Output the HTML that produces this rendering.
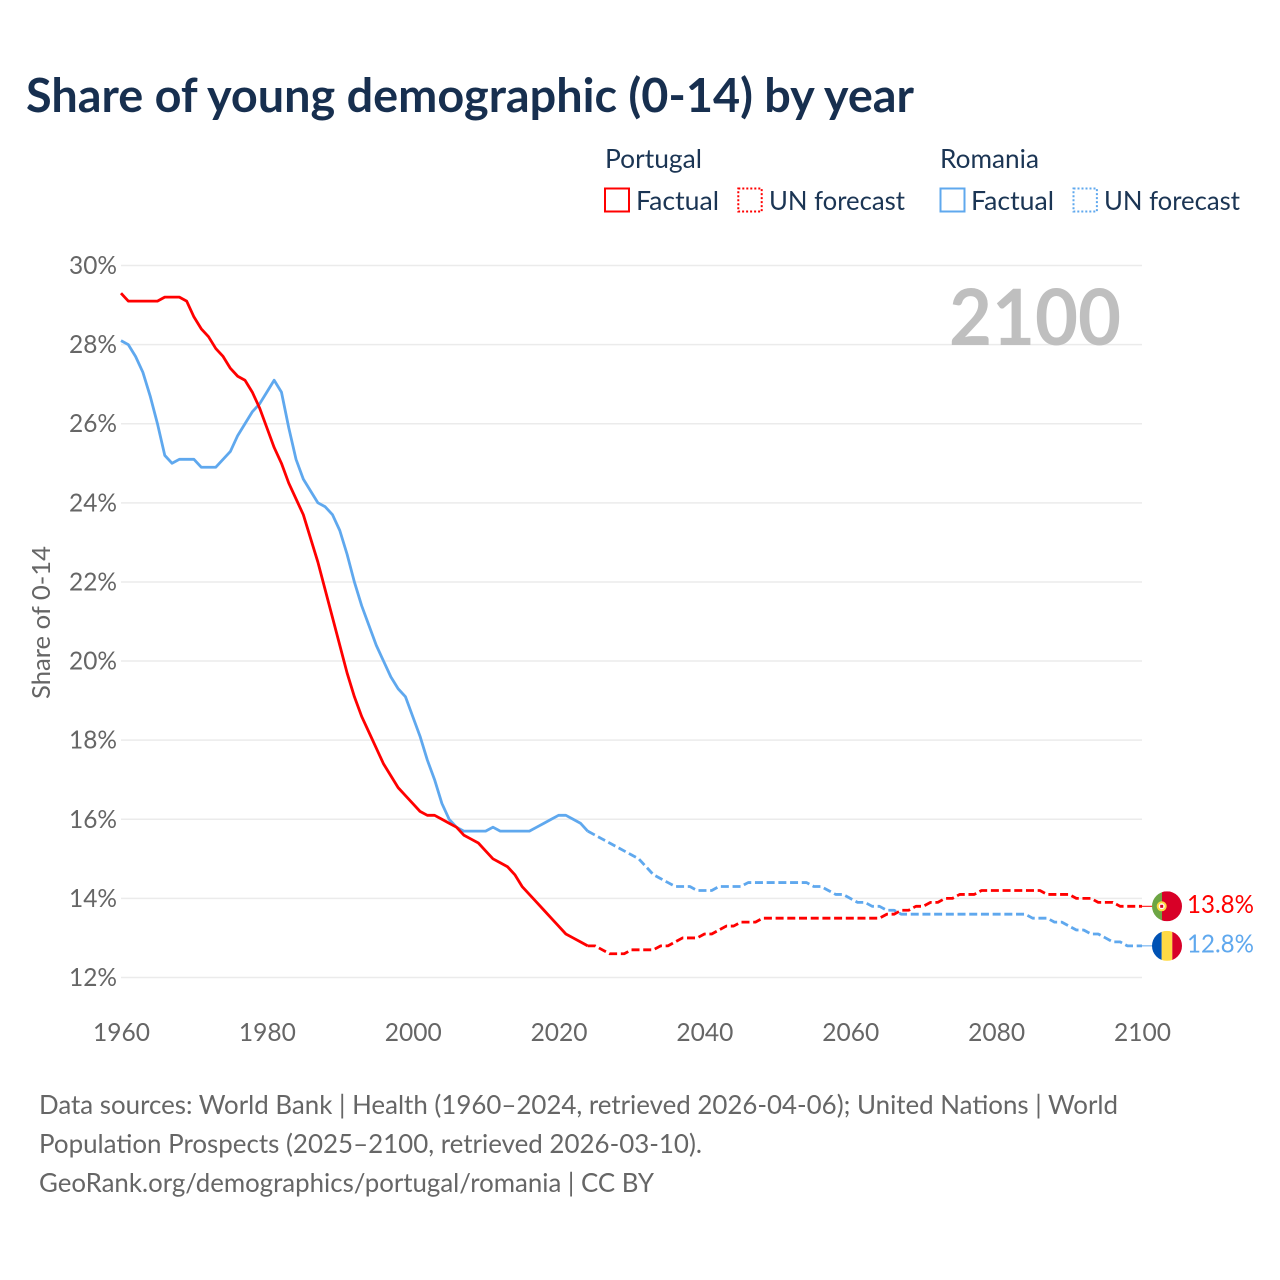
<!DOCTYPE html>
<html lang="en">
<head>
<meta charset="utf-8">
<title>Share of young demographic (0-14) by year</title>
<style>
  html, body { margin: 0; padding: 0; background: #fff; }
  svg { display: block; }
  text { font-family: "Lato", "Carlito", "Liberation Sans", sans-serif; }
</style>
</head>
<body>
<svg id="chart" xmlns="http://www.w3.org/2000/svg" width="1280" height="1280" viewBox="0 0 1280 1280">
  <rect x="0" y="0" width="1280" height="1280" fill="#ffffff"/>
  <text x="26" y="112" font-size="47" font-weight="700" fill="#172f4f" textLength="888" lengthAdjust="spacingAndGlyphs">Share of young demographic (0-14) by year</text>

  <g font-size="26" fill="#1b3554">
    <text x="605" y="168" textLength="97" lengthAdjust="spacingAndGlyphs">Portugal</text>
    <rect x="605" y="188.5" width="24" height="23" fill="none" stroke="#ff0000" stroke-width="2"/>
    <text x="636" y="210" textLength="83" lengthAdjust="spacingAndGlyphs">Factual</text>
    <rect x="738.3" y="188.5" width="23.4" height="23" fill="none" stroke="#ff0000" stroke-width="2" stroke-dasharray="2 2"/>
    <text x="769" y="210" textLength="136" lengthAdjust="spacingAndGlyphs">UN forecast</text>
    <text x="940" y="168" textLength="99" lengthAdjust="spacingAndGlyphs">Romania</text>
    <rect x="940.5" y="188.5" width="24" height="23" fill="none" stroke="#5fa8ee" stroke-width="2"/>
    <text x="971" y="210" textLength="83" lengthAdjust="spacingAndGlyphs">Factual</text>
    <rect x="1073.5" y="188.5" width="23.4" height="23" fill="none" stroke="#5fa8ee" stroke-width="2" stroke-dasharray="2 2"/>
    <text x="1104" y="210" textLength="136" lengthAdjust="spacingAndGlyphs">UN forecast</text>
  </g>

  <g id="grid"></g>
  <g id="y-ticks" font-size="25" fill="#666666" text-anchor="end"></g>
  <g id="x-ticks" font-size="25" fill="#666666" text-anchor="middle"></g>

  <text transform="translate(50,622.5) rotate(-90)" text-anchor="middle" font-size="25" fill="#666666" textLength="153" lengthAdjust="spacingAndGlyphs">Share of 0-14</text>

  <text x="949" y="345" font-size="78" font-weight="700" fill="#bfbfbf" textLength="172" lengthAdjust="spacingAndGlyphs">2100</text>

  <g id="series"></g>

  <g id="end-markers"></g>

  <defs>
    <clipPath id="clip-pt"><circle cx="1167" cy="0" r="15"/></clipPath>
    <clipPath id="clip-ro"><circle cx="1167" cy="0" r="15"/></clipPath>
  </defs>

  <g font-size="26" fill="#666666">
    <text x="39" y="1114" textLength="1079" lengthAdjust="spacingAndGlyphs">Data sources: World Bank | Health (1960–2024, retrieved 2026-04-06); United Nations | World</text>
    <text x="39" y="1153" textLength="663" lengthAdjust="spacingAndGlyphs">Population Prospects (2025–2100, retrieved 2026-03-10).</text>
    <text x="39" y="1192" textLength="615" lengthAdjust="spacingAndGlyphs">GeoRank.org/demographics/portugal/romania | CC BY</text>
  </g>
</svg>

<script>
// Chart data
const FIRST_YEAR = 1960;
const FORECAST_START_YEAR = 2024;
const xTickYears = [1960, 1980, 2000, 2020, 2040, 2060, 2080, 2100];
const yTickValues = [12, 14, 16, 18, 20, 22, 24, 26, 28, 30];

// Portugal factual, 1960-2024
const portugalFactual = [
  29.3,29.1,29.1,29.1,29.1,29.1,29.2,29.2,29.2,29.1,
  28.7,28.4,28.2,27.9,27.7,27.4,27.2,27.1,26.8,26.4,
  25.9,25.4,25.0,24.5,24.1,23.7,23.1,22.5,21.8,21.1,
  20.4,19.7,19.1,18.6,18.2,17.8,17.4,17.1,16.8,16.6,
  16.4,16.2,16.1,16.1,16.0,15.9,15.8,15.6,15.5,15.4,
  15.2,15.0,14.9,14.8,14.6,14.3,14.1,13.9,13.7,13.5,
  13.3,13.1,13.0,12.9,12.8
];
// Portugal UN forecast, 2024-2100
const portugalForecast = [
  12.8,12.8,12.7,12.6,12.6,12.6,
  12.7,12.7,12.7,12.7,12.8,12.8,12.9,13.0,13.0,13.0,
  13.1,13.1,13.2,13.3,13.3,13.4,13.4,13.4,13.5,13.5,
  13.5,13.5,13.5,13.5,13.5,13.5,13.5,13.5,13.5,13.5,
  13.5,13.5,13.5,13.5,13.5,13.6,13.6,13.7,13.7,13.8,
  13.8,13.9,13.9,14.0,14.0,14.1,14.1,14.1,14.2,14.2,
  14.2,14.2,14.2,14.2,14.2,14.2,14.2,14.1,14.1,14.1,
  14.1,14.0,14.0,14.0,13.9,13.9,13.9,13.8,13.8,13.8,13.8
];
// Romania factual, 1960-2024
const romaniaFactual = [
  28.1,28.0,27.7,27.3,26.7,26.0,25.2,25.0,25.1,25.1,
  25.1,24.9,24.9,24.9,25.1,25.3,25.7,26.0,26.3,26.5,
  26.8,27.1,26.8,25.9,25.1,24.6,24.3,24.0,23.9,23.7,
  23.3,22.7,22.0,21.4,20.9,20.4,20.0,19.6,19.3,19.1,
  18.6,18.1,17.5,17.0,16.4,16.0,15.8,15.7,15.7,15.7,
  15.7,15.8,15.7,15.7,15.7,15.7,15.7,15.8,15.9,16.0,
  16.1,16.1,16.0,15.9,15.7
];
// Romania UN forecast, 2024-2100
const romaniaForecast = [
  15.7,15.6,15.5,15.4,15.3,15.2,
  15.1,15.0,14.8,14.6,14.5,14.4,14.3,14.3,14.3,14.2,
  14.2,14.2,14.3,14.3,14.3,14.3,14.4,14.4,14.4,14.4,
  14.4,14.4,14.4,14.4,14.4,14.3,14.3,14.2,14.1,14.1,
  14.0,13.9,13.9,13.8,13.8,13.7,13.7,13.6,13.6,13.6,
  13.6,13.6,13.6,13.6,13.6,13.6,13.6,13.6,13.6,13.6,
  13.6,13.6,13.6,13.6,13.6,13.5,13.5,13.5,13.4,13.4,
  13.3,13.2,13.2,13.1,13.1,13.0,12.9,12.9,12.8,12.8,12.8
];

// Axis functions
const SVG_NS = 'http://www.w3.org/2000/svg';
const x0 = 121, x1 = 1142, y30 = 265.5, y12 = 977.5;
function xScale(year) { return x0 + (year - 1960) * (x1 - x0) / (2100 - 1960); }
function yScale(v) { return y12 - (v - 12) * (y12 - y30) / (30 - 12); }

function make(tag, attrs, parent) {
  const el = document.createElementNS(SVG_NS, tag);
  for (const k in attrs) el.setAttribute(k, attrs[k]);
  parent.appendChild(el);
  return el;
}

function linePath(values, startYear) {
  return values.map(function (v, i) {
    return (i ? 'L' : 'M') + xScale(startYear + i).toFixed(2) + ' ' + yScale(v).toFixed(2);
  }).join(' ');
}

const grid = document.getElementById('grid');
const yTicks = document.getElementById('y-ticks');
yTickValues.forEach(function (v) {
  const line = make('line', { x1: 121, x2: 1142, y1: yScale(v), y2: yScale(v), stroke: '#ebebeb', 'stroke-width': 1.5 }, grid);
  
  
  const label = make('text', { x: 117, y: yScale(v) + 8.5, textLength: 48, lengthAdjust: 'spacingAndGlyphs' }, yTicks);
  label.textContent = v + '%';
  
  
});

const xTicks = document.getElementById('x-ticks');
xTickYears.forEach(function (year) {
  const label = make('text', { x: xScale(year) + 0.5, y: 1041, textLength: 57, lengthAdjust: 'spacingAndGlyphs' }, xTicks);
  label.textContent = String(year);
  
  
});

const seriesGroup = document.getElementById('series');
const RED = '#ff0000', BLUE = '#5fa8ee';
function drawSeries(name, values, startYear, color, dashed) {
  const attrs = { d: linePath(values, startYear), fill: 'none', stroke: color, 'stroke-width': 2.8, 'stroke-linejoin': 'round' };
  if (dashed) attrs['stroke-dasharray'] = '8 3.7';
  const path = make('path', attrs, seriesGroup);
  
  
}
drawSeries('line-romania-forecast', romaniaForecast, FORECAST_START_YEAR, BLUE, true);
drawSeries('line-portugal-forecast', portugalForecast, FORECAST_START_YEAR, RED, true);
drawSeries('line-romania-factual', romaniaFactual, FIRST_YEAR, BLUE, false);
drawSeries('line-portugal-factual', portugalFactual, FIRST_YEAR, RED, false);

// End-of-line markers: flag + value label, positioned from each series' last value
const markers = document.getElementById('end-markers');
function endMarker(country, lastValue, color, clipId, drawFlag) {
  const cy = yScale(lastValue);
  const leader = make('line', { x1: x1, x2: 1153, y1: cy, y2: cy, stroke: color, 'stroke-width': 1 }, markers);
  
  
  document.querySelector('#' + clipId + ' circle').setAttribute('cy', cy);
  const flag = make('g', { 'clip-path': 'url(#' + clipId + ')' }, markers);
  
  
  drawFlag(flag, cy);
  const label = make('text', { x: 1187, y: cy + 6.5, 'font-size': 25, fill: color, textLength: 67, lengthAdjust: 'spacingAndGlyphs' }, markers);
  label.textContent = lastValue.toFixed(1) + '%';
  
  
}
endMarker('portugal', portugalForecast[portugalForecast.length - 1], RED, 'clip-pt', function (g, cy) {
  make('rect', { x: 1152, y: cy - 15, width: 10, height: 30, fill: '#6da544' }, g);
  make('rect', { x: 1162, y: cy - 15, width: 20, height: 30, fill: '#d80027' }, g);
  make('circle', { cx: 1161.7, cy: cy, r: 4, fill: '#ffffff', stroke: '#ffda44', 'stroke-width': 2 }, g);
  make('rect', { x: 1160.2, y: cy - 1.5, width: 3, height: 3, fill: '#d80027' }, g);
});
endMarker('romania', romaniaForecast[romaniaForecast.length - 1], BLUE, 'clip-ro', function (g, cy) {
  make('rect', { x: 1152, y: cy - 15, width: 9.7, height: 30, fill: '#0052b4' }, g);
  make('rect', { x: 1161.7, y: cy - 15, width: 10.6, height: 30, fill: '#ffda44' }, g);
  make('rect', { x: 1172.3, y: cy - 15, width: 9.7, height: 30, fill: '#d80027' }, g);
});
</script>
</body>
</html>
